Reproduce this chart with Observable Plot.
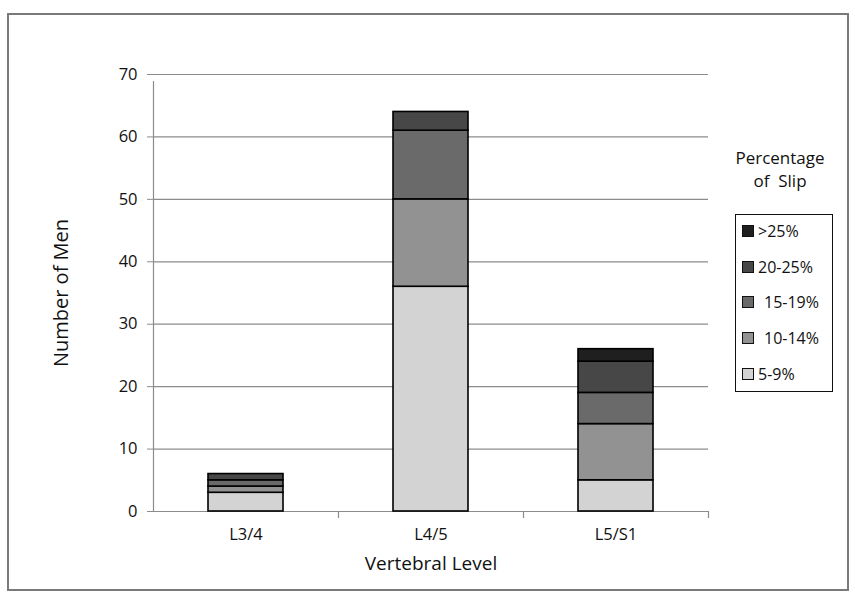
<!DOCTYPE html>
<html>
<head>
<meta charset="utf-8">
<script src="https://cdn.jsdelivr.net/npm/d3@7"></script>
<script src="https://cdn.jsdelivr.net/npm/@observablehq/plot@0.6"></script>
<style>
  html, body { margin: 0; padding: 0; background: #fff; }
  #wrap { position: relative; width: 855px; height: 600px; font-family: "Open Sans", sans-serif; }
  #frame { position: absolute; left: 7px; top: 13px; width: 838px; height: 574px; border: 2px solid #7a7a7a; pointer-events: none; }
  #legendTitle { position: absolute; left: 720px; top: 146px; width: 120px; text-align: center; font-size: 17px; line-height: 23px; color: #111; }
  #legend { position: absolute; left: 735px; top: 214px; width: 98px; height: 178px; border: 1.5px solid #111; box-sizing: border-box; }
  .item { position: absolute; left: 6px; font-size: 16px; color: #111; display: flex; align-items: center; height: 22px; }
  .sw { width: 10px; height: 10px; border: 1px solid #111; margin-right: 4px; }
  svg { position: absolute; left: 0; top: 0; }
</style>
</head>
<body>
<div id="wrap">
  <div id="chart"></div>
  <div id="legendTitle"></div>
  <div id="legend"></div>
  <div id="frame"></div>
</div>
<script>
// ---- data ----
const levels = ["L3/4", "L4/5", "L5/S1"];
const slipCategories = ["5-9%", "10-14%", "15-19%", "20-25%", ">25%"];
const slip5to9   = [3, 36, 5];
const slip10to14 = [1, 14, 9];
const slip15to19 = [1, 11, 5];
const slip20to25 = [1, 3, 5];
const slipOver25 = [0, 0, 2];
const slipColors = ["#d3d3d3", "#929292", "#6a6a6a", "#474747", "#1f1f1f"];
const yTicks = [0, 10, 20, 30, 40, 50, 60, 70];
const legendLabels = [">25%", "20-25%", " 15-19%", " 10-14%", "5-9%"];
const xTitle = "Vertebral Level";
const yTitle = "Number of Men";

const seriesValues = [slip5to9, slip10to14, slip15to19, slip20to25, slipOver25];
const data = [];
levels.forEach((lev, i) => {
  slipCategories.forEach((s, j) => {
    const v = seriesValues[j][i];
    if (v > 0) data.push({level: lev, slip: s, count: v});
  });
});

const W = 855, H = 600, mL = 153, mR = 147, mT = 74, mB = 89;
const step = (W - mL - mR) / levels.length;

const chart = Plot.plot({
  width: W,
  height: H,
  marginLeft: mL,
  marginRight: mR,
  marginTop: mT,
  marginBottom: mB,
  style: {fontFamily: "'Open Sans', sans-serif", fontSize: "16.5px", color: "#111", background: "transparent"},
  x: {domain: levels, paddingInner: 0.595, paddingOuter: 0.2975},
  y: {domain: [0, 70]},
  color: {domain: slipCategories, range: slipColors},
  marks: [
    Plot.ruleY(yTicks, {stroke: "#8c8c8c", strokeWidth: 1.2}),
    Plot.ruleX(levels.slice(0, 1), {x: d => d, dx: -step / 2, y1: 0, y2: 70, insetBottom: -7, stroke: "#8c8c8c", strokeWidth: 1.2}),
    Plot.ruleX(levels.slice(1), {x: d => d, dx: -step / 2, y1: 0, y2: 0, insetBottom: -7, stroke: "#8c8c8c", strokeWidth: 1.2}),
    Plot.ruleX(levels.slice(-1), {x: d => d, dx: step / 2, y1: 0, y2: 0, insetBottom: -7, stroke: "#8c8c8c", strokeWidth: 1.2}),
    Plot.barY(data, Plot.stackY({x: "level", y: "count", fill: "slip", order: slipCategories, stroke: "#000", strokeWidth: 1.6})),
    Plot.axisY(yTicks, {tickSize: 6, tickPadding: 10, stroke: "#8c8c8c", label: null, fontSize: 16.5}),
    Plot.axisX({tickSize: 0, tickPadding: 17, label: null, fontSize: 16.5}),
    Plot.text([xTitle], {frameAnchor: "bottom", dy: 52, lineAnchor: "middle", fontSize: 19, fill: "#111"}),
    Plot.text([yTitle], {frameAnchor: "left", dx: -92, rotate: -90, lineAnchor: "middle", textAnchor: "middle", fontSize: 20, fill: "#111"})
  ]
});
document.getElementById("chart").appendChild(chart);

// legend
document.getElementById("legendTitle").innerHTML = "Percentage<br>of&nbsp; Slip";
const legend = document.getElementById("legend");
const rev = slipCategories.slice().reverse();
const revColors = slipColors.slice().reverse();
rev.forEach((s, k) => {
  const it = document.createElement("div");
  it.className = "item";
  it.style.top = (5 + k * 35.7) + "px";
  const sw = document.createElement("div");
  sw.className = "sw";
  sw.style.background = revColors[k];
  const t = document.createElement("span");
  t.textContent = legendLabels[k].trim();
  if (legendLabels[k].startsWith(" ")) t.style.marginLeft = "6px";
  it.appendChild(sw);
  it.appendChild(t);
  legend.appendChild(it);
});
</script>
</body>
</html>
